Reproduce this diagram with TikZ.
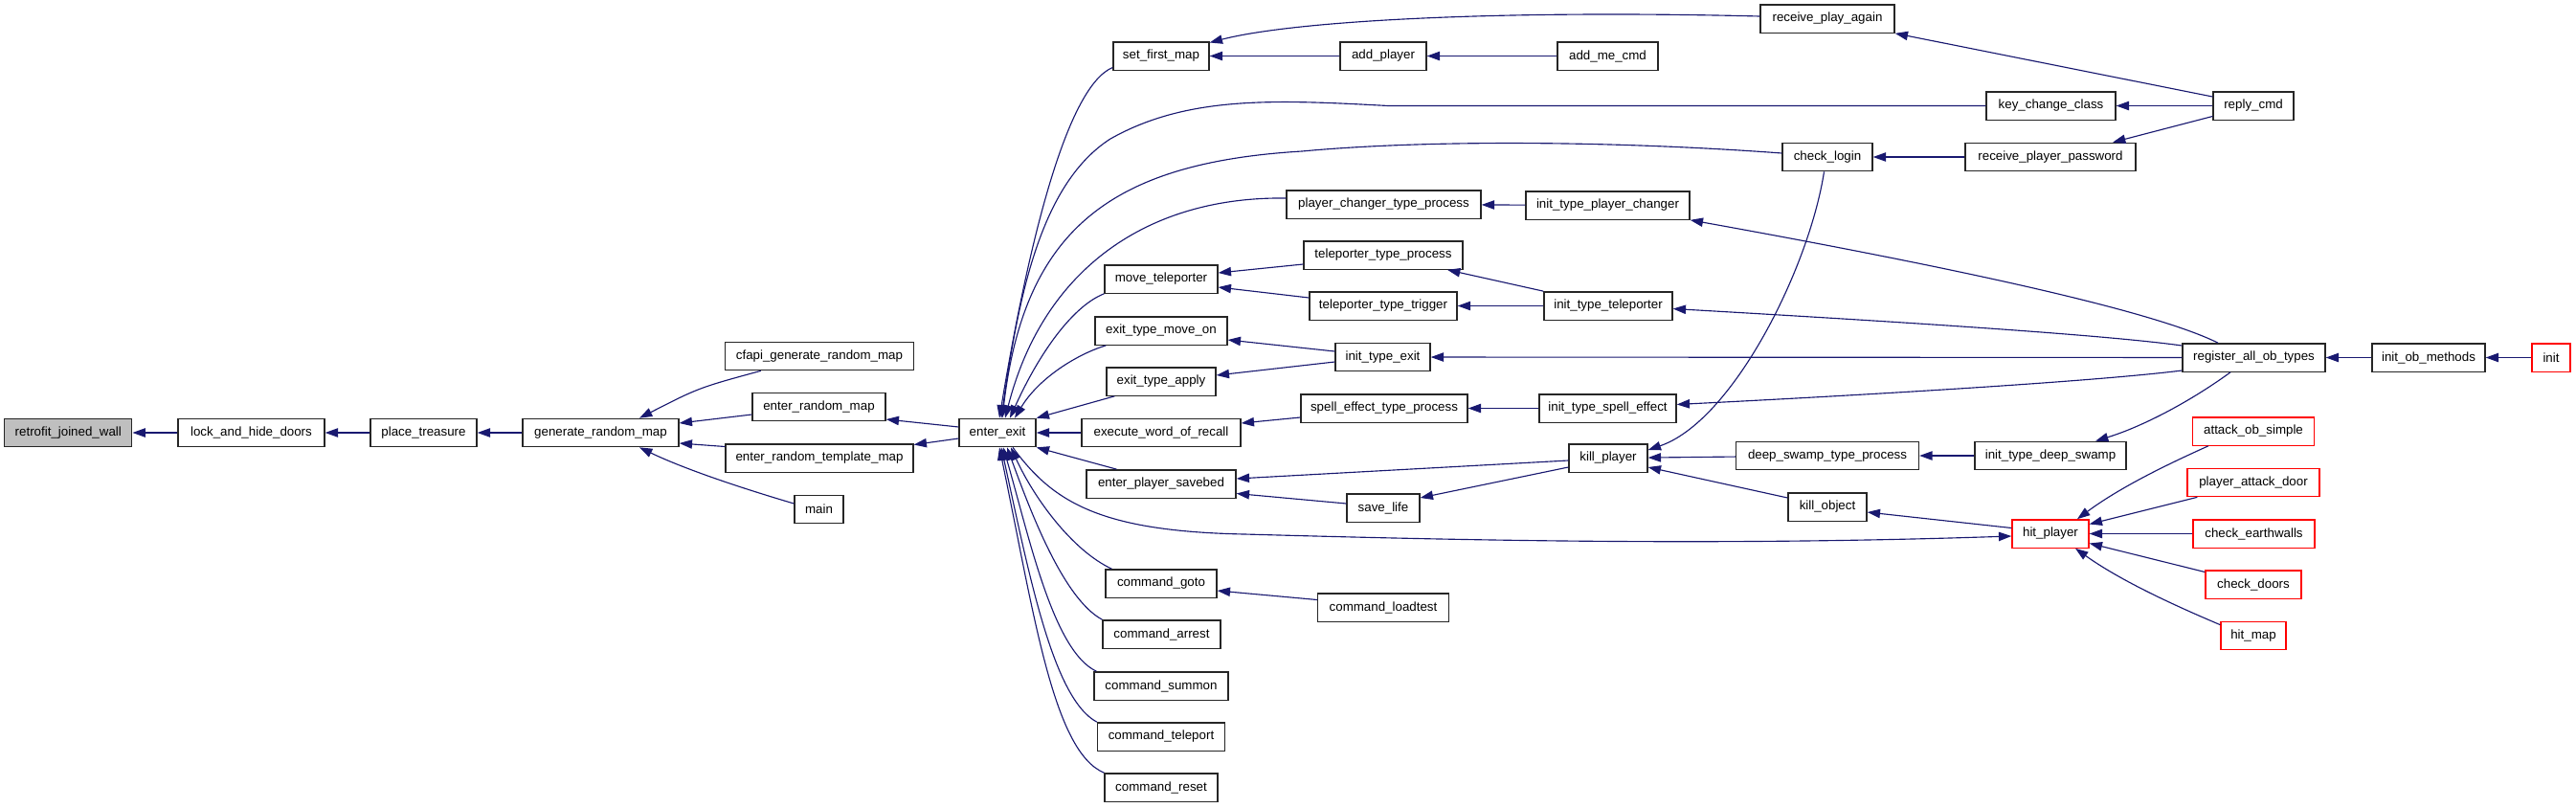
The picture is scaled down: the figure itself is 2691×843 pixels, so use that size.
\documentclass[tikz,border=0pt]{standalone}
\usepackage{fontspec}
\setmainfont{Liberation Sans}
\usetikzlibrary{arrows.meta,calc}
\definecolor{edgec}{HTML}{191970}
\definecolor{grayfill}{HTML}{BFBFBF}
\tikzset{
  box/.style={draw=black!85, line width=1pt, fill=white, minimum height=22pt,
    inner sep=0pt, font=\fontsize{10}{12}\selectfont},
  w/.style={minimum width=#1*0.75pt},
  redbox/.style={box, draw=red},
  arr/.style={draw=edgec, line width=0.85pt, -{Triangle[length=10pt,width=7pt]}},
}
\begin{document}
\begin{tikzpicture}[x=0.75pt,y=-0.75pt]
\useasboundingbox (0,0) rectangle (2691,843);
% nodes
\node[box,w=133,fill=grayfill] (retro) at (71.3,452) {retrofit\_joined\_wall};
\node[box,w=153] (lock) at (262.5,452) {lock\_and\_hide\_doors};
\node[box,w=111] (place) at (442.5,452) {place\_treasure};
\node[box,w=163] (gen) at (627.5,452) {generate\_random\_map};
\node[box,w=197] (cfapi) at (856,372) {cfapi\_generate\_random\_map};
\node[box,w=139] (erm) at (855.5,425) {enter\_random\_map};
\node[box,w=196] (ertm) at (856,478.5) {enter\_random\_template\_map};
\node[box,w=51] (main) at (855.5,532) {main};
\node[box,w=80] (ee) at (1042,452) {enter\_exit};
\node[box,w=100] (sfm) at (1213,58.5) {set\_first\_map};
\node[box,w=118] (mt) at (1213,291.5) {move\_teleporter};
\node[box,w=138] (etmo) at (1213,345.5) {exit\_type\_move\_on};
\node[box,w=114] (eta) at (1213,398.5) {exit\_type\_apply};
\node[box,w=166] (ewor) at (1213,452) {execute\_word\_of\_recall};
\node[box,w=156] (eps) at (1213,505.5) {enter\_player\_savebed};
\node[box,w=116] (cgoto) at (1213,609.5) {command\_goto};
\node[box,w=123] (carrest) at (1213.5,662.5) {command\_arrest};
\node[box,w=140] (csummon) at (1213,716.5) {command\_summon};
\node[box,w=133] (cteleport) at (1213,769.5) {command\_teleport};
\node[box,w=118] (creset) at (1213,822.5) {command\_reset};
\node[box,w=90] (addp) at (1445,58.5) {add\_player};
\node[box,w=203] (pctp) at (1445.5,213.5) {player\_changer\_type\_process};
\node[box,w=166] (ttp) at (1445,266.5) {teleporter\_type\_process};
\node[box,w=154] (ttt) at (1445,319.5) {teleporter\_type\_trigger};
\node[box,w=99] (itex) at (1444.5,373) {init\_type\_exit};
\node[box,w=174] (setp) at (1446,426.5) {spell\_effect\_type\_process};
\node[box,w=76] (sl) at (1445,530.5) {save\_life};
\node[box,w=137] (clt) at (1445,634.5) {command\_loadtest};
\node[box,w=105] (amc) at (1679.5,58.5) {add\_me\_cmd};
\node[box,w=171] (itpc) at (1679.5,214.5) {init\_type\_player\_changer};
\node[box,w=134] (itt) at (1680,319.5) {init\_type\_teleporter};
\node[box,w=143] (itse) at (1679.5,426.5) {init\_type\_spell\_effect};
\node[box,w=82] (kp) at (1680,478.5) {kill\_player};
\node[box,w=140] (rpa) at (1909,19.5) {receive\_play\_again};
\node[box,w=94] (cl) at (1909,164) {check\_login};
\node[box,w=191] (dstp) at (1909,476) {deep\_swamp\_type\_process};
\node[box,w=82] (ko) at (1909,529.5) {kill\_object};
\node[box,w=135] (kcc) at (2142.5,110.5) {key\_change\_class};
\node[box,w=178] (rpp) at (2142,164) {receive\_player\_password};
\node[box,w=158] (itds) at (2142,476) {init\_type\_deep\_swamp};
\node[redbox,w=80] (hit) at (2142,557.5) {hit\_player};
\node[box,w=84] (reply) at (2354,110.5) {reply\_cmd};
\node[box,w=149] (reg) at (2354.5,373.5) {register\_all\_ob\_types};
\node[redbox,w=127] (aos) at (2354,450.5) {attack\_ob\_simple};
\node[redbox,w=138] (pad) at (2354,504) {player\_attack\_door};
\node[redbox,w=127] (cew) at (2354.5,557.5) {check\_earthwalls};
\node[redbox,w=100] (cd) at (2354,610.5) {check\_doors};
\node[redbox,w=68] (hm) at (2354,664) {hit\_map};
\node[box,w=118] (iom) at (2537,373.5) {init\_ob\_methods};
\node[redbox,w=40] (init) at (2665,373.5) {init};
% edges
\draw[arr] (lock) -- (retro);
\draw[arr] (place) -- (lock);
\draw[arr] (gen) -- (place);
\draw[arr] ($(cfapi.south west)+(38,0)$) .. controls (730,405) .. ($(gen.north)+(40.5,0)$);
\draw[arr] ($(erm.west)+(0,8)$) -- ($(gen.east)+(0,-10)$);
\draw[arr] ($(ertm.west)+(0,-12)$) -- ($(gen.east)+(0,11)$);
\draw[arr] ($(main.west)+(0,-6)$) .. controls (775,510) and (715,490) .. ($(gen.south)+(40.5,0)$);
\draw[arr] ($(ee.west)+(0,-6)$) -- ($(erm.east)+(0,13)$);
\draw[arr] ($(ee.west)+(0,6)$) -- ($(ertm.east)+(0,-14)$);
\draw[arr] ($(sfm.west)+(0,12)$) .. controls (1115,90) and (1075,250) .. ($(ee.north)+(2,0)$);
\draw[arr] (kcc.west) -- (1450,110.5) .. controls (1330,104) and (1240,100) .. (1160,145) .. controls (1090,190) and (1065,300) .. ($(ee.north)+(4,0)$);
\draw[arr] ($(cl.west)+(0,-4)$) .. controls (1700,148) and (1500,145) .. (1360,158) .. controls (1160,170) and (1070,240) .. ($(ee.north)+(5,0)$);
\draw[arr] ($(pctp.west)+(0,-6.5)$) .. controls (1200,205) and (1090,280) .. ($(ee.north)+(8,0)$);
\draw[arr] (mt.south west) .. controls (1120,320) and (1085,370) .. ($(ee.north)+(13,0)$);
\draw[arr] ($(etmo.south west)+(12,0)$) .. controls (1125,370) and (1085,395) .. ($(ee.north)+(18,0)$);
\draw[arr] ($(eta.south west)+(9,0)$) -- (ee.north east);
\draw[arr] (ewor) -- (ee);
\draw[arr] ($(eps.north)+(-46.5,0)$) -- (ee.south east);
\draw[arr] ($(cgoto.north west)+(7,0)$) .. controls (1120,575) and (1080,520) .. ($(ee.south)+(14,0)$);
\draw[arr] (carrest.north west) .. controls (1110,625) and (1075,530) .. ($(ee.south)+(10,0)$);
\draw[arr] ($(csummon.north west)+(3,0)$) .. controls (1100,680) and (1075,560) .. ($(ee.south)+(6,0)$);
\draw[arr] (cteleport.north west) .. controls (1100,730) and (1075,600) .. ($(ee.south)+(4,0)$);
\draw[arr] (creset.north west) .. controls (1100,785) and (1080,640) .. ($(ee.south)+(2,0)$);
\draw[arr] ($(ee.south)+(16,0)$) .. controls (1100,525) and (1150,555) .. (1300,558) .. controls (1550,565) and (1800,570) .. ($(hit.west)+(0,2.5)$);
\draw[arr] ($(rpa.west)+(0,-2.5)$) .. controls (1560,10) and (1350,22) .. ($(sfm.east)+(0,-14)$);
\draw[arr] (addp) -- (sfm);
\draw[arr] (amc) -- (addp);
\draw[arr] ($(reply.west)+(0,-9.5)$) -- (rpa.south east);
\draw[arr] (reply) -- (kcc);
\draw[arr] ($(reply.west)+(0,11)$) -- ($(rpp.north)+(65,0)$);
\draw[arr] (rpp) -- (cl);
\draw[arr] (itpc) -- (pctp);
\draw[arr] ($(reg.north)+(-37.5,0)$) .. controls (2260,330) and (2100,290) .. (itpc.south east);
\draw[arr] ($(ttp.west)+(0,9.5)$) -- ($(mt.east)+(0,-6.5)$);
\draw[arr] ($(ttt.west)+(0,-8.5)$) -- ($(mt.east)+(0,8.5)$);
\draw[arr] (itt.north west) -- ($(ttp.south)+(67,0)$);
\draw[arr] (itt) -- (ttt);
\draw[arr] ($(reg.west)+(0,-12.5)$) .. controls (2200,350) and (2000,337) .. ($(itt.east)+(0,3)$);
\draw[arr] ($(itex.west)+(0,-6)$) -- ($(etmo.east)+(0,9.5)$);
\draw[arr] ($(itex.west)+(0,5)$) -- ($(eta.east)+(0,-6.5)$);
\draw[arr] (reg) -- (itex);
\draw[arr] ($(reg.west)+(0,13.5)$) .. controls (2200,397) and (2000,410) .. ($(itse.east)+(0,-4)$);
\draw[arr] (itse) -- (setp);
\draw[arr] ($(setp.west)+(0,9.5)$) -- ($(ewor.east)+(0,-10)$);
\draw[arr] ($(kp.west)+(0,2.5)$) -- ($(eps.east)+(0,-5.5)$);
\draw[arr] ($(sl.west)+(0,-4.5)$) -- ($(eps.east)+(0,10)$);
\draw[arr] ($(kp.west)+(0,9.5)$) -- ($(sl.east)+(0,-10.5)$);
\draw[arr] ($(cl.south)+(-3.5,0)$) .. controls (1890,280) and (1810,440) .. ($(kp.east)+(0,-8.5)$);
\draw[arr] (dstp) -- (kp);
\draw[arr] ($(ko.west)+(0,-9.5)$) -- ($(kp.east)+(0,9.5)$);
\draw[arr] (itds) -- (dstp);
\draw[arr] ($(reg.south)+(-24.5,0)$) .. controls (2290,418) and (2240,445) .. ($(itds.north)+(47,0)$);
\draw[arr] ($(hit.west)+(0,-6)$) -- ($(ko.east)+(0,5.5)$);
\draw[arr] ($(aos.south west)+(17,0)$) .. controls (2280,478) and (2220,505) .. ($(hit.north)+(28,0)$);
\draw[arr] ($(pad.south west)+(11,0)$) -- ($(hit.east)+(0,-10)$);
\draw[arr] (cew) -- (hit);
\draw[arr] ($(cd.west)+(0,-13)$) -- ($(hit.east)+(0,10)$);
\draw[arr] ($(hm.north west)+(0,4)$) .. controls (2285,638) and (2220,610) .. ($(hit.south)+(26,0)$);
\draw[arr] (iom) -- (reg);
\draw[arr] (init) -- (iom);
\draw[arr] ($(clt.west)+(0,-8)$) -- ($(cgoto.east)+(0,7.5)$);
\end{tikzpicture}
\end{document}
